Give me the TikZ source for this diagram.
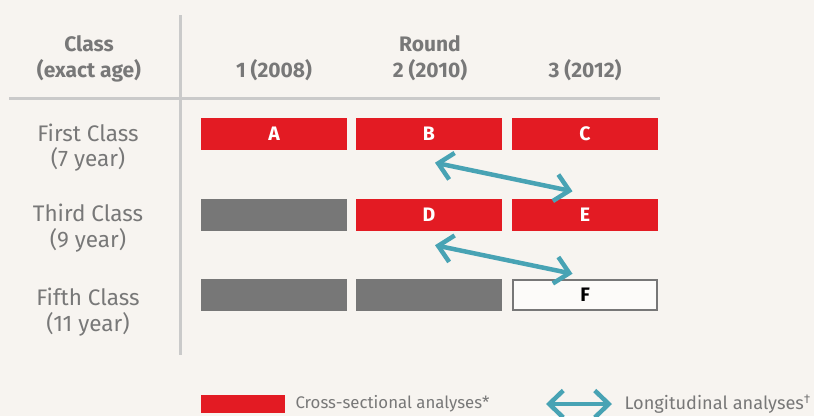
\documentclass[tikz,border=0pt]{standalone}
\usepackage{fontspec}
\setmainfont{Fira Sans}
\usetikzlibrary{arrows.meta,calc}
\definecolor{bg}{HTML}{F7F4F0}
\definecolor{redbar}{HTML}{E31B23}
\definecolor{graybar}{HTML}{777777}
\definecolor{txtgray}{HTML}{787878}
\definecolor{rulegray}{HTML}{CACACA}
\definecolor{tealarrow}{HTML}{48A3B4}
\begin{document}
\begin{tikzpicture}[x=1pt,y=-1pt,
  bar/.style={minimum width=146pt, minimum height=32pt, inner sep=0pt, font=\bfseries\fontsize{19.5}{19.5}\selectfont},
  redcell/.style={bar, fill=redbar, text=white},
  graycell/.style={bar, fill=graybar},
  opencell/.style={bar, minimum width=144pt, minimum height=30.5pt, fill=white!60!bg, draw=graybar, line width=2pt, text=black},
  head/.style={anchor=base, text=txtgray, font=\bfseries\fontsize{21}{21}\selectfont},
  rowlab/.style={anchor=base, text=txtgray, font=\fontsize{22.5}{22.5}\selectfont},
  legtext/.style={anchor=west, text=txtgray, font=\fontsize{16.8}{16.8}\selectfont},
  gridline/.style={draw=rulegray, line width=3pt},
  link/.style={draw=tealarrow, line width=4.5pt,
    {Straight Barb[length=14pt, width=27pt]}-{Straight Barb[length=14pt, width=27pt]}}
]
% canvas
\fill[bg] (0,0) rectangle (814,416);
\useasboundingbox (0,0) rectangle (814,416);

% table rules
\coordinate (vtop) at (180,15);
\coordinate (vbot) at (180,355);
\coordinate (hleft) at (9,98);
\coordinate (hright) at (660,98);
\draw[gridline] (vtop) -- (vbot);
\draw[gridline] (hleft) -- (hright);

% column headings
\node[head] (hclass) at (89,51) {Class};
\node[head] (hage) at (89,77) {(exact age)};
\node[head] (hround) at (430,51) {Round};
\node[head] (r1) at (274,77) {1 (2008)};
\node[head] (r2) at (430,77) {2 (2010)};
\node[head] (r3) at (585,77) {3 (2012)};

% row headings
\node[rowlab] (c1a) at (88,141) {First Class};
\node[rowlab] (c1b) at (88,166) {(7 year)};
\node[rowlab] (c3a) at (88,221) {Third Class};
\node[rowlab] (c3b) at (88,247) {(9 year)};
\node[rowlab] (c5a) at (88,305) {Fifth Class};
\node[rowlab] (c5b) at (88,331) {(11 year)};

% cells
\node[redcell] (A) at (274,134) {A};
\node[redcell] (B) at (429,134) {B};
\node[redcell] (C) at (585,134) {C};
\node[graycell] (G1) at (274,215) {};
\node[redcell] (D) at (429,215) {D};
\node[redcell] (E) at (585,215) {E};
\node[graycell] (G2) at (274,295) {};
\node[graycell] (G3) at (429,295) {};
\node[opencell] (F) at (585,295) {F};

% longitudinal links
\coordinate (bl) at ($(B.south)+(6,12.5)$);
\coordinate (er) at ($(E.north)+(-12.5,-7.5)$);
\coordinate (dl) at ($(D.south)+(6,14)$);
\coordinate (fr) at ($(F.north)+(-12.5,-5)$);
\draw[link] (bl) -- (er);
\draw[link] (dl) -- (fr);

% legend
\node[minimum width=84pt, minimum height=18pt, inner sep=0pt, fill=redbar] (legred) at (243,404) {};
\node[legtext] (legcross) at (292,404) {Cross-sectional analyses*};
\coordinate (la) at (546,404);
\coordinate (lb) at (612,404);
\draw[link] (la) -- (lb);
\node[legtext, font=\fontsize{18.2}{18.2}\selectfont] (leglong) at (621,404) {Longitudinal analyses\textsuperscript{†}};
\end{tikzpicture}
\end{document}
